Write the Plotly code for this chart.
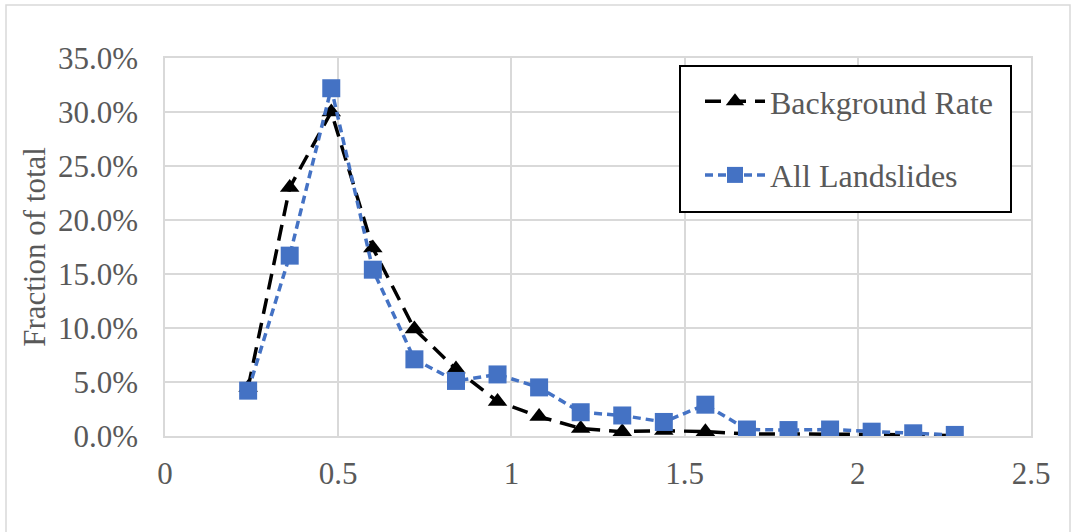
import plotly.graph_objects as go

x_vals = [0.24, 0.36, 0.48, 0.60, 0.72, 0.84, 0.96, 1.08, 1.20, 1.32,
          1.44, 1.56, 1.68, 1.80, 1.92, 2.04, 2.16, 2.28]
background_rate = [0.045, 0.230, 0.300, 0.174, 0.099, 0.062, 0.032, 0.018, 0.007, 0.004,
                   0.005, 0.004, 0.002, 0.002, 0.002, 0.0015, 0.001, 0.0005]
all_landslides = [0.042, 0.167, 0.322, 0.154, 0.071, 0.051, 0.057, 0.045, 0.022, 0.019,
                  0.013, 0.029, 0.006, 0.0055, 0.006, 0.004, 0.0025, 0.001]
y_ticks = [0, 0.05, 0.10, 0.15, 0.20, 0.25, 0.30, 0.35]
x_ticks = [0, 0.5, 1, 1.5, 2, 2.5]

FONT = "Liberation Serif"
TXT = "#595959"
GRID = "#d9d9d9"

L, R, T, B = 165, 1031, 58, 436
W, H = R - L, B - T


def px(xp):
    return (xp - L) / W


def py(yp):
    return (B - yp) / H


fig = go.Figure()
fig.add_trace(go.Scatter(
    x=x_vals, y=background_rate, mode="lines+markers", name="Background Rate",
    legendgroup="a",
    line=dict(color="black", width=3.5, dash="16px,9px"),
    marker=dict(symbol="triangle-up", size=17, color="black"),
))
fig.add_trace(go.Scatter(
    x=x_vals, y=all_landslides, mode="lines+markers", name="All Landslides",
    legendgroup="b",
    line=dict(color="#4472C4", width=3.5, dash="8px,5px"),
    marker=dict(symbol="square", size=18, color="#4472C4"),
))

fig.update_layout(
    width=1071, height=532,
    margin=dict(l=L, r=1071 - R, t=T, b=532 - B, autoexpand=False),
    paper_bgcolor="white", plot_bgcolor="white",
    font=dict(family=FONT, size=31, color=TXT),
    showlegend=True,
    legend=dict(
        x=px(700), y=py(74), xref="paper", yref="paper",
        xanchor="left", yanchor="top",
        borderwidth=0, bgcolor="rgba(0,0,0,0)",
        font=dict(family=FONT, size=32, color=TXT),
        traceorder="grouped", tracegroupgap=29,
        itemwidth=60,
    ),
    shapes=[
        dict(type="rect", xref="paper", yref="paper",
             x0=px(6), x1=px(1070), y0=py(700), y1=py(5),
             line=dict(color=GRID, width=1.5), layer="below"),
        dict(type="rect", xref="paper", yref="paper",
             x0=px(680), x1=px(1011), y0=py(212), y1=py(66),
             line=dict(color="black", width=2), fillcolor="white", layer="above"),
    ],
)
fig.update_xaxes(
    range=[0, 2.5], tickvals=x_ticks, ticktext=["0", "0.5", "1", "1.5", "2", "2.5"],
    showgrid=True, gridcolor=GRID, gridwidth=1.5,
    showline=True, linecolor=GRID, linewidth=1.5, mirror=True,
    zeroline=False, ticks="outside", ticklen=9, tickcolor="rgba(0,0,0,0)",
)
fig.update_yaxes(
    range=[0, 0.35], tickvals=y_ticks, tickformat=".1%",
    showgrid=True, gridcolor=GRID, gridwidth=1.5,
    showline=True, linecolor=GRID, linewidth=1.5, mirror=True,
    zeroline=False, ticks="outside", ticklen=19, tickcolor="rgba(0,0,0,0)",
    title=dict(text="Fraction of total", standoff=3, font=dict(family=FONT, size=31, color=TXT)),
)

fig.write_html("out.html")
